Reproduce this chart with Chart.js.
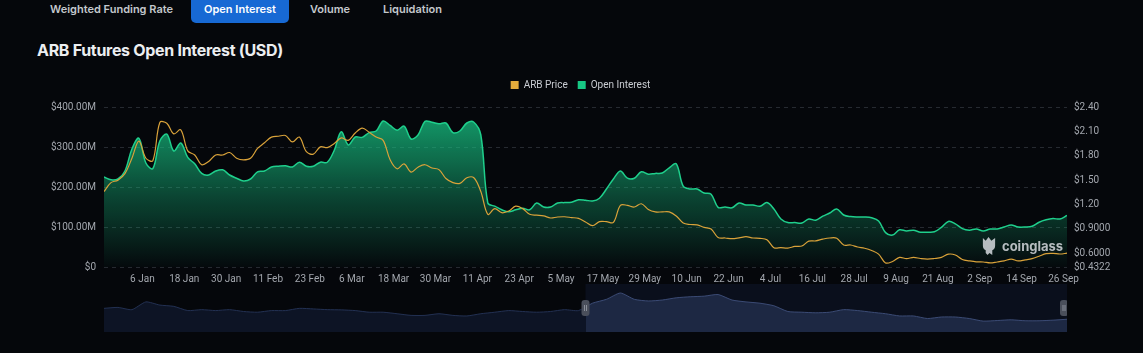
<!DOCTYPE html>
<html>
<head>
<meta charset="utf-8">
<script src="https://cdn.jsdelivr.net/npm/chart.js@4.4.1/dist/chart.umd.min.js"></script>
<style>
  body { margin: 0; background: #05070b; width: 1143px; height: 353px; overflow: hidden; position: relative; font-family: Inter, Roboto, sans-serif; }
  .tab { position: absolute; top: 0; height: 23px; line-height: 19px; font-size: 11px; font-weight: 600; color: #c4c7cd; white-space: nowrap; }
  .tab.active { background: #1769d4; color: #fff; border-radius: 0 0 5px 5px; text-align: center; }
  h1 { position: absolute; left: 37px; top: 40px; margin: 0; font-size: 16px; font-weight: 700; color: #eceef1; letter-spacing: -0.3px; white-space: nowrap; }
  #mainWrap { position: absolute; left: 0; top: 70px; }
  #navWrap { position: absolute; left: 104px; top: 284px; }
  .wm { position: absolute; left: 981px; top: 235px; display: flex; align-items: center; gap: 5px; color: rgba(214,217,222,0.85); font-size: 13px; font-weight: 700; font-family: Inter, sans-serif; }
</style>
</head>
<body>
<div class="tab" style="left:50px">Weighted Funding Rate</div>
<div class="tab active" style="left:191px;width:98px">Open Interest</div>
<div class="tab" style="left:310px">Volume</div>
<div class="tab" style="left:383px">Liquidation</div>
<h1>ARB Futures Open Interest (USD)</h1>

<div id="mainWrap"><canvas id="oiChart" width="1143" height="220"></canvas></div>
<div id="navWrap"><canvas id="navChart" width="963" height="48"></canvas></div>

<div class="wm">
  <svg width="16" height="21" viewBox="0 0 17 22">
    <path d="M2 3 L5 6 L8 2 L11 6 L15 3 L15 11 Q15 15 12 16 L12 21 L9 19 L7 21 L5 19 L5 16 Q2 15 2 11 Z" fill="rgba(214,217,222,0.85)"/>
  </svg>
  <span>coinglass</span>
</div>

<script>
// days counted from 1 Jan 2024; first point is 26 Dec 2023, one point every 2 days
const startDay = -6;
const stepDays = 2;

// open interest, millions of USD
const openInterest = [
  225, 218, 220, 240, 295, 322, 260, 246, 315, 332,
  290, 310, 274, 258, 234, 230, 240, 243, 230, 222,
  215, 220, 238, 240, 250, 252, 253, 250, 262, 252,
  252, 262, 262, 292, 338, 305, 325, 324, 336, 340,
  365, 354, 342, 352, 320, 330, 364, 362, 358, 360,
  336, 340, 360, 362, 330, 160, 152, 143, 138, 143,
  147, 143, 160, 150, 150, 160, 161, 162, 168, 167,
  165, 172, 195, 220, 240, 222, 222, 238, 232, 234,
  235, 248, 258, 202, 195, 195, 185, 182, 149, 150,
  148, 160, 155, 155, 152, 161, 145, 120, 111, 111,
  110, 120, 117, 127, 135, 145, 130, 126, 125, 125,
  123, 115, 86, 80, 93, 90, 92, 87, 87, 88,
  99, 114, 108, 96, 92, 95, 90, 95, 95, 100,
  105, 100, 100, 102, 112, 118, 121, 120, 129
];

// ARB price, USD
const arbPrice = [
  1.36, 1.47, 1.50, 1.58, 1.77, 1.98, 1.77, 1.74, 2.21, 2.20,
  2.07, 2.12, 1.86, 1.81, 1.69, 1.73, 1.81, 1.81, 1.84, 1.77,
  1.75, 1.77, 1.89, 1.96, 2.03, 2.04, 2.05, 1.97, 2.03, 1.85,
  1.82, 1.91, 1.90, 1.95, 2.02, 1.99, 2.08, 2.14, 2.09, 2.03,
  1.99, 1.75, 1.64, 1.70, 1.60, 1.66, 1.69, 1.65, 1.63, 1.52,
  1.47, 1.46, 1.53, 1.53, 1.36, 1.08, 1.15, 1.10, 1.12, 1.18,
  1.15, 1.08, 1.07, 1.06, 1.035, 1.047, 1.05, 1.04, 1.03, 0.986,
  0.94, 0.99, 0.99, 0.98, 1.19, 1.19, 1.17, 1.21, 1.14, 1.11,
  1.11, 1.11, 1.06, 0.973, 0.955, 0.95, 0.92, 0.90, 0.795, 0.789,
  0.78, 0.79, 0.805, 0.789, 0.785, 0.768, 0.67, 0.67, 0.665, 0.685,
  0.69, 0.75, 0.753, 0.775, 0.789, 0.786, 0.703, 0.703, 0.678, 0.663,
  0.635, 0.59, 0.482, 0.50, 0.55, 0.535, 0.55, 0.537, 0.53, 0.537,
  0.55, 0.59, 0.58, 0.525, 0.508, 0.496, 0.494, 0.482, 0.494, 0.507,
  0.53, 0.507, 0.52, 0.535, 0.565, 0.596, 0.60, 0.592, 0.603
];

const xTickLabels = ['6 Jan', '18 Jan', '30 Jan', '11 Feb', '23 Feb', '6 Mar', '18 Mar', '30 Mar',
  '11 Apr', '23 Apr', '5 May', '17 May', '29 May', '10 Jun', '22 Jun', '4 Jul', '16 Jul',
  '28 Jul', '9 Aug', '21 Aug', '2 Sep', '14 Sep', '26 Sep'];
const priceTicks = [0.4322, 0.6, 0.9, 1.2, 1.5, 1.8, 2.1, 2.4];

// whole history for the zoom bar below, millions of USD, one point every 8 days
const overviewOI = [
  202, 210, 191, 257, 230, 219, 183, 191, 183, 191,
  175, 169, 183, 183, 202, 197, 191, 189, 183, 169,
  169, 156, 142, 142, 156, 142, 137, 156, 169, 183,
  175, 169, 175, 191, 183, 246, 279, 333, 279, 265,
  273, 292, 301, 306, 320, 273, 257, 246, 224, 175,
  169, 164, 169, 191, 183, 169, 156, 137, 137, 115,
  128, 128, 115, 93, 98, 104, 96, 96, 101, 109
];
const navStart = 34.5; // index in overviewOI where the shown window begins

const months = ['Jan','Feb','Mar','Apr','May','Jun','Jul','Aug','Sep','Oct','Nov','Dec'];
function dayOf(label) {
  const [d, m] = label.split(' ');
  return (Date.UTC(2024, months.indexOf(m), +d) - Date.UTC(2024, 0, 1)) / 864e5;
}

const oiPoints = openInterest.map((v, i) => ({ x: startDay + i * stepDays, y: v * 1e6 }));
const pricePoints = arbPrice.map((v, i) => ({ x: startDay + i * stepDays, y: v }));
const legendColors = ['#e2aa3b', '#17c784'];

const axisFont = { family: 'Roboto', size: 10 };

// a bit more room under the legend, and legend centred over the plot
const legendTweak = {
  id: 'legendTweak',
  afterInit(chart) {
    const fit = chart.legend.fit;
    chart.legend.fit = function () { fit.call(this); this.height += 7; };
  },
  afterLayout(chart) {
    chart.legend.left += 9;
    chart.legend.right += 9;
  }
};

new Chart(document.getElementById('oiChart'), {
  type: 'line',
  data: {
    datasets: [
      {
        label: 'ARB Price',
        data: pricePoints,
        yAxisID: 'yPrice',
        borderColor: '#d9a23a',
        borderWidth: 1.2,
        pointRadius: 0,
        tension: 0.35,
        fill: false
      },
      {
        label: 'Open Interest',
        data: oiPoints,
        yAxisID: 'yOI',
        borderColor: '#1fcf8c',
        borderWidth: 1.5,
        pointRadius: 0,
        tension: 0.35,
        fill: 'origin',
        backgroundColor: (ctx) => {
          const area = ctx.chart.chartArea;
          if (!area) return 'rgba(23,199,132,0.4)';
          const g = ctx.chart.ctx.createLinearGradient(0, area.top, 0, area.bottom);
          g.addColorStop(0, 'rgba(23,190,128,0.85)');
          g.addColorStop(0.55, 'rgba(23,190,128,0.35)');
          g.addColorStop(1, 'rgba(23,190,128,0.02)');
          return g;
        }
      }
    ]
  },
  options: {
    responsive: false,
    animation: false,
    events: [],
    layout: { padding: 0 },
    plugins: {
      tooltip: { enabled: false },
      legend: {
        position: 'top',
        labels: {
          boxWidth: 8,
          boxHeight: 8,
          padding: 10,
          color: '#c9ccd2',
          font: { family: 'Roboto', size: 10 },
          generateLabels: (chart) => Chart.defaults.plugins.legend.labels.generateLabels(chart)
            .map((l, i) => Object.assign(l, { fillStyle: legendColors[i], strokeStyle: legendColors[i], lineWidth: 0 }))
        }
      }
    },
    scales: {
      x: {
        type: 'linear',
        min: startDay,
        max: startDay + (openInterest.length - 1) * stepDays,
        afterBuildTicks: (axis) => { axis.ticks = xTickLabels.map(l => ({ value: dayOf(l) })); },
        afterFit: (axis) => { axis.height = 23; },
        grid: { display: false, drawTicks: false },
        border: { display: false },
        ticks: {
          autoSkip: false,
          maxRotation: 0,
          padding: 6,
          color: '#a3a7ae',
          font: axisFont,
          callback: (v, i) => xTickLabels[i]
        }
      },
      yOI: {
        position: 'left',
        min: 0,
        max: 400e6,
        afterFit: (axis) => { axis.width = 104; },
        grid: { color: '#262a31', drawTicks: false },
        border: { display: false, dash: [4, 4] },
        ticks: {
          stepSize: 100e6,
          padding: 8,
          color: '#a3a7ae',
          font: axisFont,
          callback: (v) => v === 0 ? '$0' : '$' + (v / 1e6).toFixed(2) + 'M'
        }
      },
      yPrice: {
        position: 'right',
        min: priceTicks[0],
        max: priceTicks[priceTicks.length - 1],
        afterBuildTicks: (axis) => { axis.ticks = priceTicks.map(v => ({ value: v })); },
        afterFit: (axis) => { axis.width = 76; },
        grid: { display: false, drawTicks: false },
        border: { display: false },
        ticks: {
          padding: 7,
          color: '#a3a7ae',
          font: axisFont,
          callback: (v) => '$' + (v < 1 ? v.toFixed(4) : v.toFixed(2))
        }
      }
    }
  },
  plugins: [legendTweak]
});

// zoom bar: shaded window and two handles
const navPlugin = {
  id: 'navWindow',
  beforeDatasetsDraw(chart) {
    const { ctx, chartArea, scales } = chart;
    const x0 = scales.x.getPixelForValue(navStart);
    ctx.save();
    ctx.fillStyle = '#0a0f1c';
    ctx.fillRect(x0, chartArea.top, chartArea.right - x0, chartArea.bottom - chartArea.top);
    ctx.restore();
  },
  afterDraw(chart) {
    const { ctx, chartArea, scales } = chart;
    const yMid = (chartArea.top + chartArea.bottom) / 2;
    [scales.x.getPixelForValue(navStart), chartArea.right - 3].forEach(x => {
      ctx.save();
      ctx.fillStyle = '#4a4f5b';
      ctx.beginPath();
      ctx.roundRect(x - 4, yMid - 8, 8, 16, 3);
      ctx.fill();
      ctx.strokeStyle = '#9aa0aa';
      ctx.lineWidth = 0.8;
      ctx.beginPath();
      ctx.moveTo(x - 1, yMid - 3); ctx.lineTo(x - 1, yMid + 3);
      ctx.moveTo(x + 1, yMid - 3); ctx.lineTo(x + 1, yMid + 3);
      ctx.stroke();
      ctx.restore();
    });
  }
};

function splitGradient(chart, left, right) {
  const area = chart.chartArea;
  if (!area) return right;
  const f = (chart.scales.x.getPixelForValue(navStart) - area.left) / (area.right - area.left);
  const g = chart.ctx.createLinearGradient(area.left, 0, area.right, 0);
  g.addColorStop(0, left);
  g.addColorStop(f, left);
  g.addColorStop(Math.min(1, f + 0.0005), right);
  g.addColorStop(1, right);
  return g;
}

new Chart(document.getElementById('navChart'), {
  type: 'line',
  data: {
    datasets: [{
      data: overviewOI.map((v, i) => ({ x: i, y: v })),
      borderWidth: 1,
      pointRadius: 0,
      tension: 0.2,
      fill: 'origin',
      borderColor: (ctx) => splitGradient(ctx.chart, '#223052', '#3a4a74'),
      backgroundColor: (ctx) => splitGradient(ctx.chart, '#0d1425', '#1d2843')
    }]
  },
  options: {
    responsive: false,
    animation: false,
    events: [],
    layout: { padding: 0 },
    plugins: { legend: { display: false }, tooltip: { enabled: false } },
    scales: {
      x: { type: 'linear', display: false, min: 0, max: overviewOI.length - 1 },
      y: { display: false, min: 0, max: 410 }
    }
  },
  plugins: [navPlugin]
});
</script>
</body>
</html>
